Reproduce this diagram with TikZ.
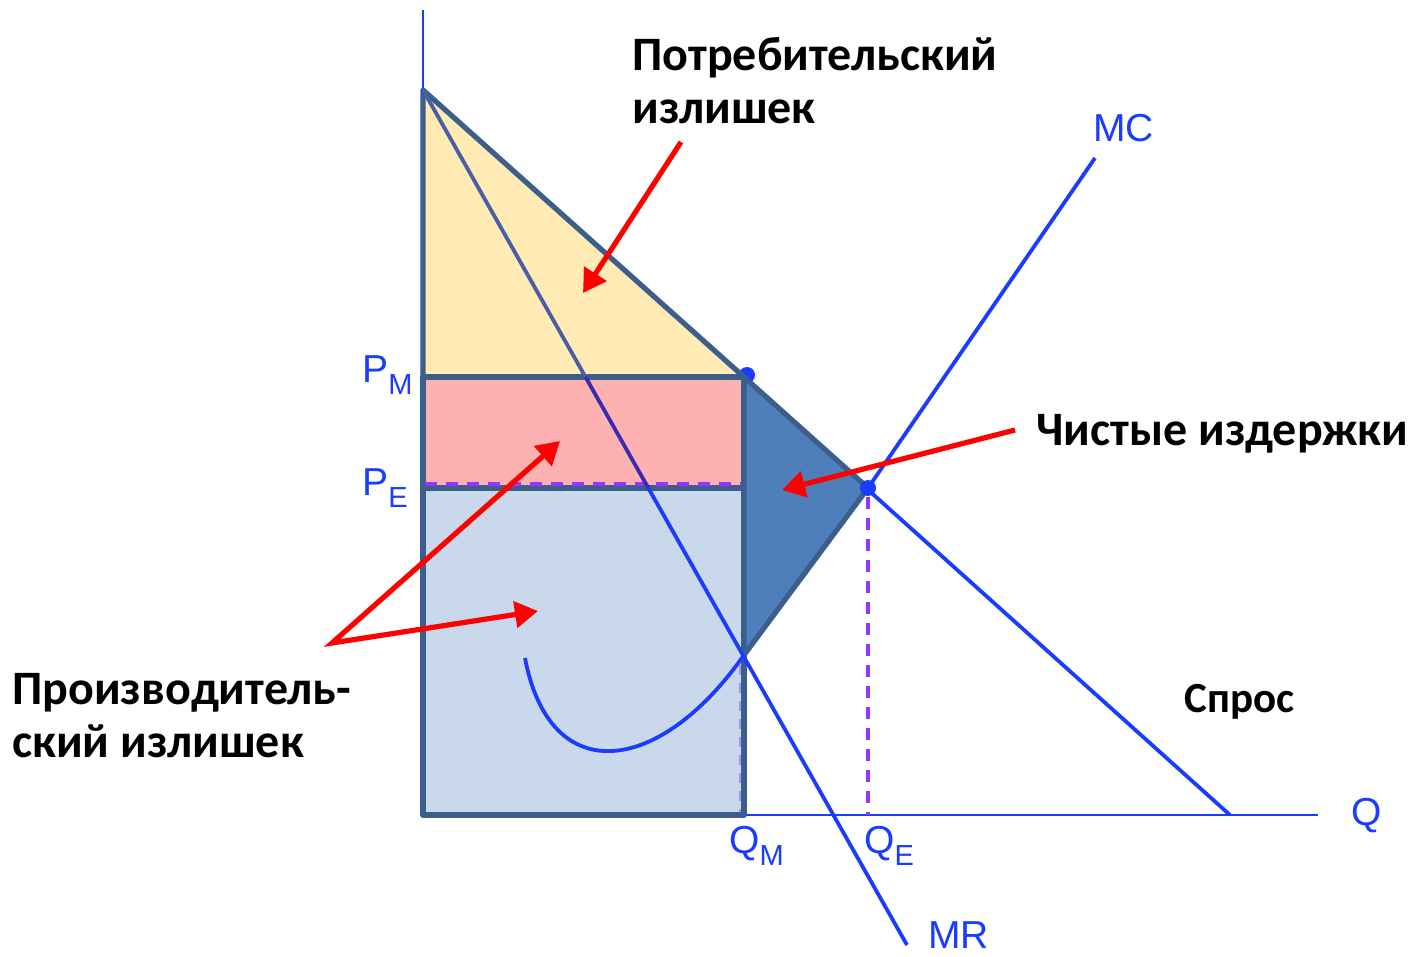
\documentclass[tikz,border=0pt]{standalone}
\usepackage{fontspec}
\setmainfont{Liberation Sans}
\newfontfamily\calib{Carlito}
\usetikzlibrary{arrows.meta}
\definecolor{lblue}{HTML}{1A3CFF}
\definecolor{bord}{HTML}{3B5E8C}
\definecolor{yel}{HTML}{FFEBB3}
\definecolor{pnk}{HTML}{FDB1B1}
\definecolor{lbfill}{HTML}{C9D8EB}
\definecolor{dkfill}{HTML}{4F7FBA}
\definecolor{purp}{HTML}{9933FF}
\definecolor{mrslate}{HTML}{4A5EA6}
\definecolor{mrpurp}{HTML}{3A2AB0}
\tikzset{
  econline/.style={draw=lblue, line width=1.9pt},
  axisline/.style={draw=lblue, line width=1.3pt},
  region/.style={draw=bord, line width=2.6pt, line join=round},
  redarrow/.style={draw=red, line width=2.6pt, line join=miter},
  lbl/.style={text=lblue, inner sep=0, anchor=base west},
  blk/.style={inner sep=0, anchor=base west, font=\calib\bfseries\fontsize{24}{26.5}\selectfont, align=left},
  dsh/.style={draw=purp, line width=1.8pt, dash pattern=on 6pt off 4.5pt},
  dotmark/.style={fill=lblue, circle, inner sep=0, minimum size=8pt},
  tip/.tip={Triangle[length=11.5pt,width=13pt]}
}
\newcommand{\biglab}[1]{\fontsize{19.5}{23}\selectfont #1}
\newcommand{\sublab}[1]{\fontsize{14.5}{16}\selectfont\raisebox{-6pt}{#1}}
\begin{document}
\begin{tikzpicture}[x=0.5pt,y=-0.5pt]
\useasboundingbox (0,0) rectangle (1410,957);
% coordinates
\coordinate (O) at (423,815);
\coordinate (Ytop) at (423,10);
\coordinate (Xend) at (1318,815);
\coordinate (A) at (423,90);
\coordinate (Dend) at (1230,815);
\coordinate (M) at (744,377);
\coordinate (E) at (868,488);
\coordinate (PM) at (423,377);
\coordinate (PE) at (423,488);
\coordinate (QMPE) at (744,488);
\coordinate (QM) at (744,815);
\coordinate (QE) at (868,815);
\coordinate (K) at (744,655);
\coordinate (MR1) at (585.5,377);
\coordinate (MR2) at (648.3,488);
\coordinate (MRend) at (907,945);
\coordinate (MCend) at (1095,158);
\coordinate (MCstart) at (525,658);
% axes and lines
\draw[axisline] (Ytop) -- (O) -- (Xend);
\draw[econline] (A) -- (Dend);
\draw[econline] (K) -- (E) -- (MCend);
\node[dotmark] (dotM) at (747,375) {};
% regions
\filldraw[region, fill=yel] (A) -- (M) -- (PM) -- cycle;
\filldraw[region, fill=pnk] (PM) rectangle (QMPE);
\filldraw[region, fill=lbfill] (PE) rectangle (QM);
\filldraw[region, fill=dkfill] (M) -- (E) -- (K) -- cycle;
% dashed
\draw[dsh] (425,484) -- (741,484);
\draw[dsh] (868,497) -- (868,815);
\draw[draw=purp, opacity=0.45, line width=0.6pt, dash pattern=on 5pt off 4pt] (740,665) -- (740,812);
% MR
\draw[econline, draw=mrslate] (A) -- (MR1);
\draw[econline, draw=mrpurp] (MR1) -- (MR2);
\draw[econline] (MR2) -- (MRend);
% MC curve
\draw[econline] (MCstart) .. controls (550,790) and (660,775) .. (K);
\node[dotmark] (dotE) at (E) {};
% labels
\node[lbl] (lpm) at (362,383) {\biglab{P}\sublab{M}};
\node[lbl] (lpe) at (362,495) {\biglab{P}\sublab{E}};
\node[lbl] (lqm) at (729,853) {\biglab{Q}\sublab{M}};
\node[lbl] (lqe) at (864,853) {\biglab{Q}\sublab{E}};
\node[lbl] (lmr) at (928,948) {\biglab{MR}};
\node[lbl] (lmc) at (1093,142) {\biglab{MC}};
\node[lbl] (lq) at (1351,825) {\biglab{Q}};
% black texts
\node[blk] (tcons) at (632,124) {Потребительский\\излишек};
\node[blk] (tdw) at (1036,445) {Чистые издержки};
\node[blk] (tprod) at (12,757) {Производитель-\\ский излишек};
\node[blk, font=\calib\bfseries\fontsize{21.5}{26}\selectfont] (tdem) at (1184,712) {Спрос};
% red arrows
\coordinate (a1s) at (681,142);
\coordinate (a1e) at (583,293);
\coordinate (a2s) at (1015,430);
\coordinate (a2e) at (782,490);
\coordinate (a3t) at (560,441);
\coordinate (a3v) at (332,643);
\coordinate (a3e) at (538,611);
\draw[redarrow, -tip] (a1s) -- (a1e);
\draw[redarrow, -tip] (a2s) -- (a2e);
\draw[redarrow, tip-tip] (a3t) -- (a3v) -- (a3e);
\end{tikzpicture}
\end{document}
